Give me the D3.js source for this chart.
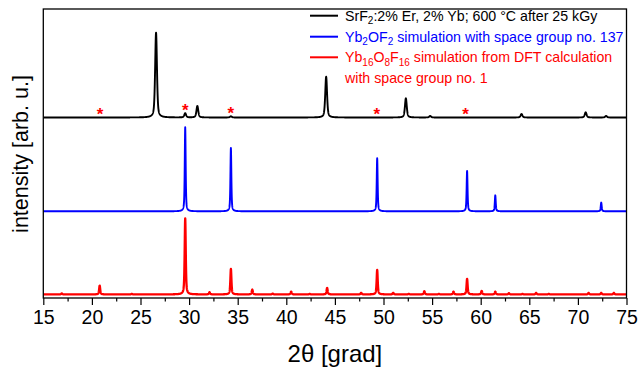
<!DOCTYPE html>
<html>
<head>
<meta charset="utf-8">
<script src="https://cdn.jsdelivr.net/npm/d3@7"></script>
<style>
  html, body { margin: 0; padding: 0; background: #fff; }
  svg { display: block; font-family: "Liberation Sans", Arial, sans-serif; }
</style>
</head>
<body>
<svg id="chart" width="638" height="367"></svg>
<script>
// ---- data: XRD reflections (2θ in degrees, relative intensity in % of strongest) ----
const xTicks = [15, 20, 25, 30, 35, 40, 45, 50, 55, 60, 65, 70, 75];

// measured SrF2:Er,Yb sample after 25 kGy
const sampleTheta = [26.6, 29.6, 30.85, 34.3, 44.1, 52.3, 54.8, 64.2, 70.8, 72.9];
const sampleInt   = [100, 5.0, 13.6, 1.4, 48.1, 22.6, 1.8, 4.1, 6.1, 1.8];

// Yb2OF2 simulation, space group 137
const yb2Theta = [29.6, 34.3, 49.35, 58.6, 61.5, 72.4];
const yb2Int   = [100, 75.4, 63.1, 48.0, 19.0, 10.4];

// Yb16O8F16 simulation from DFT, space group 1
const yb16Theta = [16.9, 20.8, 24.1, 29.6, 32.1, 34.3, 36.5, 38.6, 40.5, 42.4, 44.2, 47.7,
                   49.35, 51.0, 52.6, 54.2, 55.7, 57.2, 58.6, 60.1, 61.5, 62.9, 64.3, 65.7,
                   67.0, 71.1, 72.4, 73.7];
const yb16Int   = [1.3, 11.6, 0.7, 100, 2.9, 33.5, 6.3, 1.1, 3.7, 0.7, 8.6, 2.0,
                   32.2, 2.0, 0.7, 4.2, 0.7, 3.7, 20.4, 4.6, 3.7, 1.6, 0.7, 2.0,
                   0.7, 2.0, 2.0, 2.0];

// reflections of the sample marked with an asterisk
const starTheta = [20.85, 29.6, 34.3, 49.3, 58.45];

// ---- layout ----
const svg = d3.select("#chart");
const plotL = 43.3, plotR = 626.5, plotT = 9, plotB = 298;

const x = d3.scaleLinear().domain([15, 75]).range([plotL, plotR]);
// vertical axis in arbitrary units; patterns are stacked with offsets
const y = d3.scaleLinear().domain([0, 289]).range([plotB, plotT]);

const series = [
  { theta: yb16Theta, inten: yb16Int, color: "#ff0000", offset: 3.6,   span: 76,   fwhm: 0.13, eta: 0.6, width: 2.3 },
  { theta: yb2Theta,  inten: yb2Int,  color: "#0000ff", offset: 86.7,  span: 84,   fwhm: 0.11, eta: 0.6, width: 1.9 },
  { theta: sampleTheta, inten: sampleInt, color: "#000000", offset: 180.5, span: 84.8, fwhm: 0.22, eta: 0.5, width: 1.9 }
];

// pseudo-Voigt peak profile, height-normalised
function profile(t, s) {
  let v = 0;
  const hw = s.fwhm / 2;
  for (let i = 0; i < s.theta.length; i++) {
    const d = t - s.theta[i];
    const L = 1 / (1 + (d / hw) * (d / hw));
    const G = Math.exp(-Math.LN2 * (d / hw) * (d / hw));
    v += (s.inten[i] / 100) * (s.eta * L + (1 - s.eta) * G);
  }
  return s.offset + s.span * v;
}

const grid = d3.range(15, 75.0001, 0.01);

svg.append("defs").append("clipPath").attr("id", "plotClip")
  .append("rect").attr("x", plotL).attr("y", plotT).attr("width", plotR - plotL).attr("height", plotB - plotT);

const line = d3.line().x(d => x(d[0])).y(d => y(d[1]));
const plot = svg.append("g").attr("clip-path", "url(#plotClip)");

series.forEach(s => {
  const pts = grid.map(t => [t, profile(t, s)]);
  plot.append("path")
    .attr("d", line(pts))
    .attr("fill", "none")
    .attr("stroke", s.color)
    .attr("stroke-width", s.width)
    .attr("stroke-linejoin", "round");
});

// asterisks above marked reflections of the sample
const sample = series[2];
svg.append("g").selectAll("text").data(starTheta).join("text")
  .attr("x", d => x(d))
  .attr("y", d => y(profile(d, sample)) - 7 + 9.5)
  .attr("text-anchor", "middle")
  .attr("font-size", 17)
  .attr("font-weight", "bold")
  .attr("fill", "#ff0000")
  .text("*");

// ---- axes ----
const xAxis = d3.axisBottom(x).tickValues(xTicks).tickSize(7).tickSizeOuter(0).tickPadding(5)
  .tickFormat(d3.format("d"));
const gx = svg.append("g").attr("transform", `translate(0,${plotB})`).call(xAxis);
gx.select(".domain").remove();
gx.selectAll(".tick line").attr("stroke", "#000").attr("stroke-width", 1.2);
gx.selectAll(".tick text").attr("font-size", 19.5).attr("fill", "#000")
  .attr("font-family", "Liberation Sans, Arial, sans-serif");

const minorTicks = d3.range(17.5, 75, 5);
const gm = svg.append("g").attr("transform", `translate(0,${plotB})`)
  .call(d3.axisBottom(x).tickValues(minorTicks).tickSize(3.5).tickSizeOuter(0).tickFormat(""));
gm.select(".domain").remove();
gm.selectAll(".tick line").attr("stroke", "#000").attr("stroke-width", 1.2);

// frame
svg.append("rect")
  .attr("x", plotL).attr("y", plotT).attr("width", plotR - plotL).attr("height", plotB - plotT)
  .attr("fill", "none").attr("stroke", "#000").attr("stroke-width", 1.3);

// axis titles
svg.append("text")
  .attr("x", (plotL + plotR) / 2).attr("y", 362)
  .attr("text-anchor", "middle").attr("font-size", 24).attr("fill", "#000")
  .text("2θ [grad]");

svg.append("text")
  .attr("transform", "translate(28,154) rotate(-90)")
  .attr("text-anchor", "middle").attr("font-size", 21.5).attr("fill", "#000")
  .text("intensity [arb. u.]");

// ---- legend ----
const legendRows = [
  { color: "#000000", y: 15.7, parts: [["SrF", 0], ["2", 1], [":2% Er, 2% Yb; 600 °C after 25 kGy", 0]] },
  { color: "#0000ff", y: 36.7, parts: [["Yb", 0], ["2", 1], ["OF", 0], ["2", 1], [" simulation with space group no. 137", 0]] },
  { color: "#ff0000", y: 57.3, parts: [["Yb", 0], ["16", 1], ["O", 0], ["8", 1], ["F", 0], ["16", 1], [" simulation from DFT calculation", 0]] }
];
const lg = svg.append("g");
legendRows.forEach(r => {
  lg.append("line").attr("x1", 310).attr("x2", 338).attr("y1", r.y).attr("y2", r.y)
    .attr("stroke", r.color).attr("stroke-width", 2);
  const t = lg.append("text").attr("x", 345).attr("y", r.y + 5).attr("font-size", 14.2).attr("fill", r.color);
  r.parts.forEach(([txt, sub], i) => {
    const ts = t.append("tspan").text(txt);
    if (sub) ts.attr("font-size", 10).attr("dy", 3.5);
    else if (i > 0) ts.attr("dy", -3.5);
  });
});
lg.append("text").attr("x", 345).attr("y", 78.3 + 5).attr("font-size", 14.2).attr("fill", "#ff0000")
  .text("with space group no. 1");
</script>
</body>
</html>
